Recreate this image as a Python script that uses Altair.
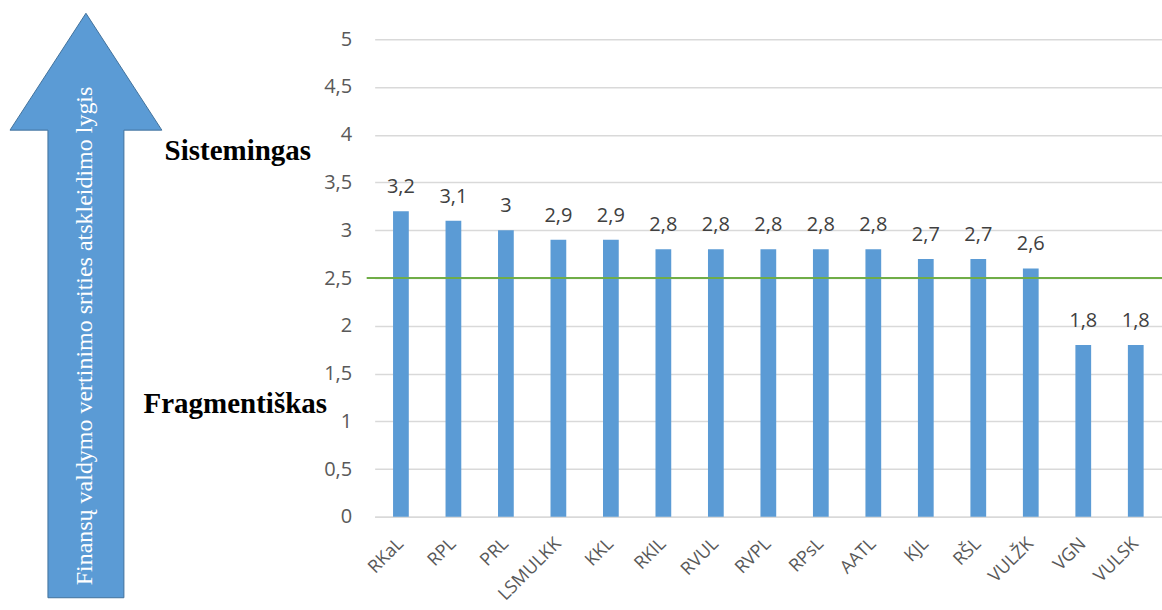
import altair as alt
import pandas as pd

# Hospitals and their financial-management disclosure scores
hospitals = ["RKaL", "RPL", "PRL", "LSMULKK", "KKL", "RKlL", "RVUL", "RVPL",
             "RPsL", "AATL", "KJL", "RŠL", "VULŽK", "VGN", "VULSK"]
scores = [3.2, 3.1, 3.0, 2.9, 2.9, 2.8, 2.8, 2.8, 2.8, 2.8, 2.7, 2.7, 2.6, 1.8, 1.8]
y_ticks = [0, 0.5, 1, 1.5, 2, 2.5, 3, 3.5, 4, 4.5, 5]
threshold = [2.5]
arrow_title = ["Finansų valdymo vertinimo srities atskleidimo lygis"]
level_labels = ["Sistemingas", "Fragmentiškas"]

W, H = 788, 478
BAR = "#5b9bd5"
GRAY = "#595959"

df = pd.DataFrame({"org": hospitals, "v": scores})

x_enc = alt.X(
    "org:N", sort=hospitals,
    scale=alt.Scale(paddingInner=0.7, paddingOuter=0.35),
    axis=alt.Axis(title=None, labelAngle=315, labelAlign="right", labelBaseline="middle",
                  labelPadding=24, labelFontSize=18, labelFont="Open Sans",
                  labelColor=GRAY, ticks=False, domainColor="#d9d9d9", domainWidth=1.5),
)
y_enc = alt.Y(
    "v:Q", scale=alt.Scale(domain=[0, 5], nice=False),
    axis=alt.Axis(title=None, values=y_ticks,
                  labelExpr="replace(toString(datum.value), '.', ',')",
                  domain=False, ticks=False, labelPadding=23, labelFontSize=20,
                  labelFont="Open Sans", labelColor=GRAY,
                  gridColor="#d9d9d9", gridWidth=1.5),
)

bars = alt.Chart(df).mark_bar(color=BAR).encode(x=x_enc, y=y_enc)

values = alt.Chart(df).transform_calculate(
    lbl="replace(toString(datum.v), '.', ',')"
).mark_text(dy=-18, baseline="alphabetic", fontSize=20, font="Open Sans",
            color="#404040").encode(x=alt.X("org:N", sort=hospitals), y="v:Q", text="lbl:N")

line = alt.Chart(pd.DataFrame({"t": threshold})).mark_rule(
    color="#70ad47", strokeWidth=2
).encode(y="t:Q", x=alt.value(-8), x2=alt.value(W))

# Big upward arrow drawn as a custom symbol path
arrow_path = ("M0,-0.975L0.2533,-0.585L0.1267,-0.585L0.1267,0.975"
              "L-0.1267,0.975L-0.1267,-0.585L-0.2533,-0.585Z")
arrow_df = pd.DataFrame({"label": arrow_title})
arrow = alt.Chart(arrow_df).mark_point(
    shape=arrow_path, size=360000, filled=True, fill=BAR, stroke="#41719c",
    strokeWidth=1, opacity=1
).encode(x=alt.value(-289), y=alt.value(266.5))

arrow_text = alt.Chart(arrow_df).mark_text(
    angle=270, font="Liberation Serif", fontSize=24, color="white",
    align="center", baseline="middle"
).encode(text="label:N", x=alt.value(-290), y=alt.value(297))

lvl_df = pd.DataFrame({"lvl": level_labels})
sist = alt.Chart(lvl_df).transform_filter(f"datum.lvl == '{level_labels[0]}'").mark_text(
    font="Liberation Serif", fontWeight="bold", fontSize=29, color="black",
    align="center", baseline="alphabetic"
).encode(text="lvl:N", x=alt.value(-137), y=alt.value(121))
frag = alt.Chart(lvl_df).transform_filter(f"datum.lvl == '{level_labels[1]}'").mark_text(
    font="Liberation Serif", fontWeight="bold", fontSize=29, color="black",
    align="center", baseline="alphabetic"
).encode(text="lvl:N", x=alt.value(-139.5), y=alt.value(374))

chart = alt.layer(bars, values, line, arrow, arrow_text, sist, frag).properties(
    width=W, height=H,
    padding={"left": 375, "top": 39, "right": 0, "bottom": 93},
    autosize=alt.AutoSizeParams(type="none"),
    background="white",
).configure_view(stroke=None)

chart.save("out.html", embed_options={"renderer": "svg", "actions": False})
